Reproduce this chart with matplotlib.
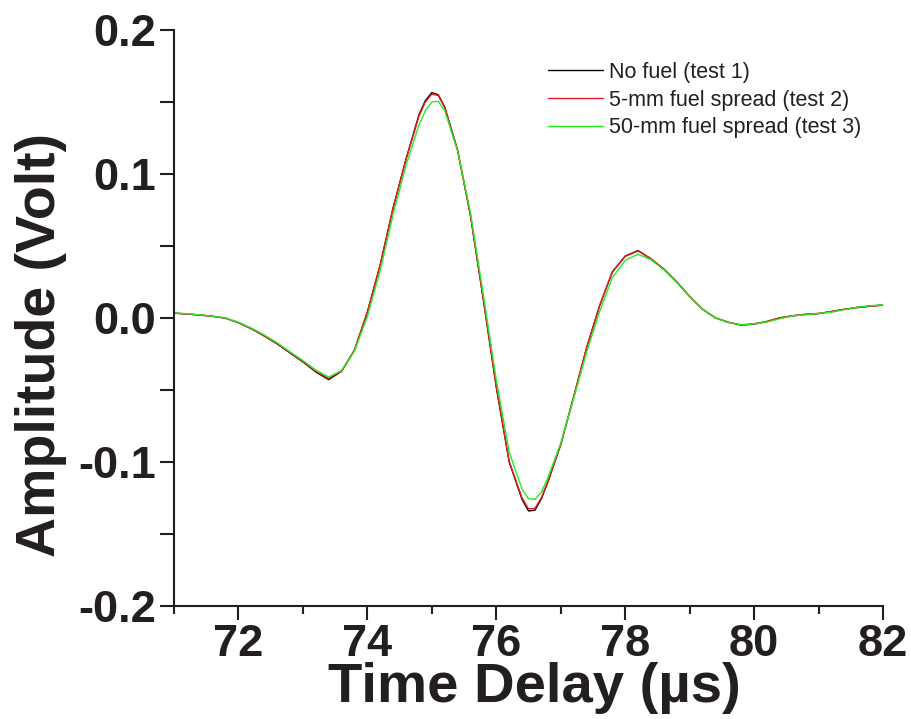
import matplotlib
matplotlib.use("Agg")
import matplotlib.pyplot as plt
from matplotlib.ticker import MultipleLocator

# time delay (us), shared by the three traces
time_us = [71.0, 71.2, 71.4, 71.6, 71.8, 72.0, 72.2, 72.4, 72.6, 72.8,
           73.0, 73.2, 73.4, 73.6, 73.8, 74.0, 74.2, 74.4, 74.6, 74.8,
           74.9, 75.0, 75.1, 75.2, 75.4, 75.6, 75.8, 76.0, 76.2, 76.4,
           76.5, 76.6, 76.7, 76.8, 77.0, 77.2, 77.4, 77.6, 77.8, 78.0,
           78.2, 78.4, 78.6, 78.8, 79.0, 79.2, 79.4, 79.6, 79.8, 80.0,
           80.2, 80.4, 80.6, 80.8, 81.0, 81.2, 81.4, 81.6, 81.8, 82.0]

no_fuel = [0.0033, 0.0028, 0.0020, 0.0012, -0.0002, -0.0033, -0.0075, -0.0125, -0.0180, -0.0243,
           -0.0305, -0.0375, -0.0428, -0.0370, -0.0225, 0.0040, 0.0370, 0.0765, 0.1105, 0.1410,
           0.1510, 0.1565, 0.1550, 0.1465, 0.1165, 0.0710, 0.0125, -0.0480, -0.1000, -0.1260,
           -0.1340, -0.1335, -0.1255, -0.1140, -0.0880, -0.0550, -0.0210, 0.0080, 0.0320, 0.0430,
           0.0468, 0.0410, 0.0340, 0.0250, 0.0150, 0.0060, 0.0000, -0.0030, -0.0050, -0.0042,
           -0.0025, 0.0000, 0.0015, 0.0025, 0.0030, 0.0045, 0.0060, 0.0072, 0.0082, 0.0090]

fuel_5mm = [0.0034, 0.0027, 0.0021, 0.0011, -0.0001, -0.0032, -0.0074, -0.0124, -0.0178, -0.0240,
            -0.0302, -0.0370, -0.0420, -0.0368, -0.0222, 0.0043, 0.0372, 0.0765, 0.1100, 0.1400,
            0.1500, 0.1555, 0.1545, 0.1462, 0.1165, 0.0712, 0.0128, -0.0475, -0.0995, -0.1250,
            -0.1325, -0.1322, -0.1248, -0.1135, -0.0878, -0.0548, -0.0208, 0.0082, 0.0318, 0.0428,
            0.0465, 0.0412, 0.0338, 0.0250, 0.0150, 0.0062, 0.0002, -0.0030, -0.0048, -0.0040,
            -0.0024, 0.0002, 0.0016, 0.0026, 0.0032, 0.0044, 0.0060, 0.0074, 0.0083, 0.0088]

fuel_50mm = [0.0035, 0.0030, 0.0022, 0.0012, 0.0000, -0.0030, -0.0070, -0.0118, -0.0172, -0.0235,
             -0.0295, -0.0362, -0.0410, -0.0365, -0.0230, 0.0010, 0.0330, 0.0720, 0.1060, 0.1340,
             0.1440, 0.1500, 0.1505, 0.1440, 0.1160, 0.0730, 0.0160, -0.0430, -0.0930, -0.1190,
             -0.1255, -0.1260, -0.1210, -0.1110, -0.0870, -0.0560, -0.0240, 0.0040, 0.0280, 0.0400,
             0.0443, 0.0405, 0.0335, 0.0245, 0.0148, 0.0060, 0.0000, -0.0032, -0.0048, -0.0040,
             -0.0028, -0.0005, 0.0015, 0.0022, 0.0032, 0.0040, 0.0058, 0.0075, 0.0085, 0.0092]

labels = ["No fuel (test 1)", "5-mm fuel spread (test 2)", "50-mm fuel spread (test 3)"]
colors = ["black", "#ee1c24", "#22ee22"]

ink = "#231f20"
plt.rcParams["font.family"] = ["Liberation Sans", "DejaVu Sans"]

fig = plt.figure(figsize=(9.12, 7.19), dpi=100)
ax = fig.add_axes([0.1908, 0.1572, 0.7774, 0.8011])

for series, label, color in zip([no_fuel, fuel_5mm, fuel_50mm], labels, colors):
    ax.plot(time_us, series, color=color, linewidth=1.0, label=label)

ax.set_xlim(71, 82)
ax.set_ylim(-0.2, 0.2)
ax.xaxis.set_major_locator(MultipleLocator(2))
ax.xaxis.set_minor_locator(MultipleLocator(1))
ax.yaxis.set_minor_locator(MultipleLocator(0.05))
ax.set_yticks([-0.2, -0.1, 0.0, 0.1, 0.2])
ax.set_yticklabels(["-0.2", "-0.1", "0.0", "0.1", "0.2"])

for side in ["top", "right"]:
    ax.spines[side].set_visible(False)
for side in ["left", "bottom"]:
    ax.spines[side].set_linewidth(1.5)
    ax.spines[side].set_color(ink)

ax.tick_params(which="major", direction="out", length=10, width=1.5, color=ink,
               labelsize=32.5, labelcolor=ink)
ax.tick_params(axis="x", which="major", pad=3)
ax.tick_params(axis="y", which="major", pad=3)
ax.tick_params(axis="x", which="minor", direction="out", length=6, width=1.5, color=ink)
ax.tick_params(axis="y", which="minor", direction="out", length=10, width=1.5, color=ink)
for lbl in ax.get_xticklabels() + ax.get_yticklabels():
    lbl.set_fontweight("bold")

ax.set_xlabel("Time Delay (µs)", fontsize=40.5, fontweight="bold", color=ink)
ax.set_ylabel("Amplitude (Volt)", fontsize=40, fontweight="bold", color=ink)
ax.xaxis.set_label_coords(0.508, -0.097)
ax.yaxis.set_label_coords(-0.151, 0.453)

ax.legend(loc="upper left", bbox_to_anchor=(0.515, 0.96), frameon=False,
          fontsize=15.5, handlelength=2.55, handletextpad=0.28, labelspacing=0.32,
          borderaxespad=0, labelcolor=ink)

fig.savefig("out.png", dpi=100)
